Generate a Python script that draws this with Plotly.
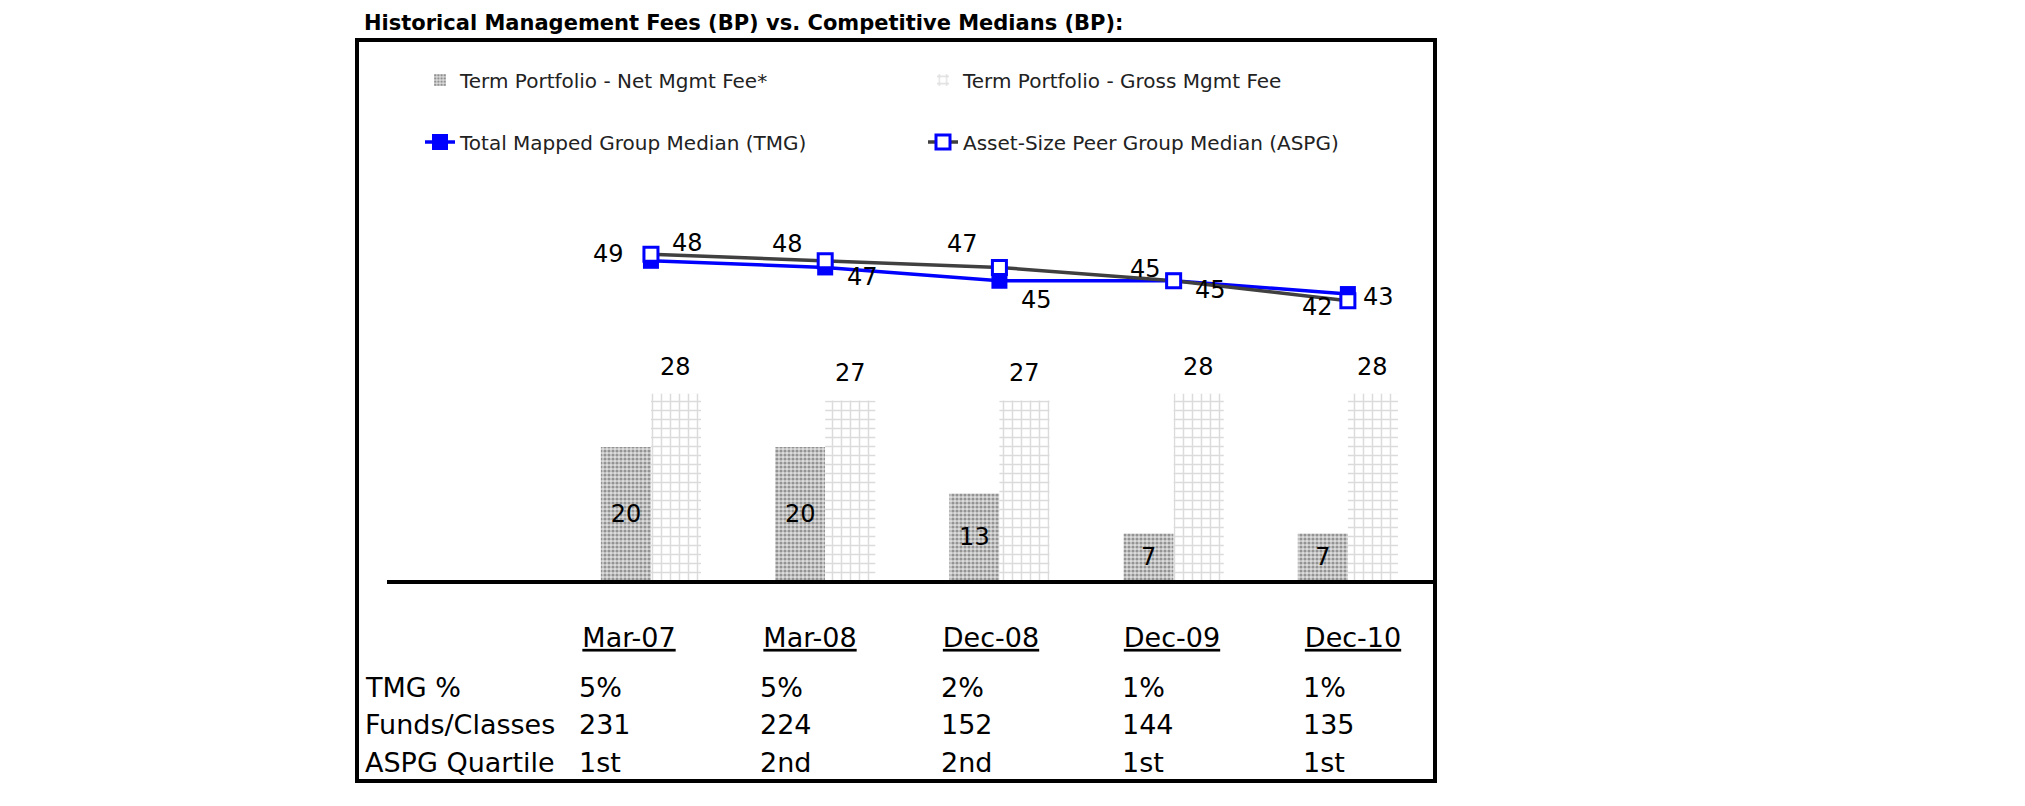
import plotly.graph_objects as go

# ---------------- data ----------------
periods = ["Mar-07", "Mar-08", "Dec-08", "Dec-09", "Dec-10"]
net_fee = [20, 20, 13, 7, 7]
gross_fee = [28, 27, 27, 28, 28]
tmg_median = [48, 47, 45, 45, 43]
aspg_median = [49, 48, 47, 45, 42]

row_labels = ["TMG %", "Funds/Classes", "ASPG Quartile"]
tmg_pct = ["5%", "5%", "2%", "1%", "1%"]
funds_classes = ["231", "224", "152", "144", "135"]
aspg_quartile = ["1st", "2nd", "2nd", "1st", "1st"]

title_text = "Historical Management Fees (BP) vs. Competitive Medians (BP):"

# ---------------- layout helpers ----------------
# page body has an 8px margin, so the figure is drawn 8px in from the corner
OFF = 8
W, H = 2025 - 2 * OFF, 806 - 2 * OFF
def px(x):
    return (x - OFF) / W
def py(y):
    return 1 - (y - OFF) / H

FONT = "DejaVu Sans"
LABEL_FONT = dict(family=FONT, size=24, color="black")

# label offsets (pixels) for the line value labels
aspg_dx = [-42, -38, -37, -28, -30]
aspg_dy = [0, 17, 23, 12, -6]
tmg_dx = [37, 37, 37, 37, 31]
tmg_dy = [18, -10, -19, -9, -3]

fig = go.Figure()

fig.add_trace(go.Bar(
    name="Term Portfolio - Net Mgmt Fee*", x=periods, y=net_fee,
    text=[str(v) for v in net_fee], textposition="inside", insidetextanchor="middle",
    textfont=LABEL_FONT, constraintext="none",
    marker=dict(color="#dcdcdc", line=dict(width=0),
                pattern=dict(shape=".", fgcolor="#4a4a4a", bgcolor="#dcdcdc", size=4, solidity=0.5)),
    legend="legend", cliponaxis=False,
))
fig.add_trace(go.Bar(
    name="Term Portfolio - Gross Mgmt Fee", x=periods, y=gross_fee,
    marker=dict(color="white", line=dict(width=0),
                pattern=dict(shape="+", fgcolor="#b8b8b8", bgcolor="white", size=9, solidity=0.3)),
    legend="legend", cliponaxis=False,
))
fig.add_trace(go.Scatter(
    name="Total Mapped Group Median (TMG)", x=periods, y=tmg_median,
    mode="lines+markers",
    line=dict(color="#0000ff", width=3.5),
    marker=dict(symbol="square", size=16, color="#0000ff", line=dict(width=0)),
    legend="legend2", cliponaxis=False,
))
fig.add_trace(go.Scatter(
    name="Asset-Size Peer Group Median (ASPG)", x=periods, y=aspg_median,
    mode="lines+markers",
    line=dict(color="#404040", width=3.5),
    marker=dict(symbol="square", size=14, color="white", line=dict(width=3, color="#0000ff")),
    legend="legend2", cliponaxis=False,
))

# invisible anchor trace so the table axes exist
fig.add_trace(go.Scatter(x=periods, y=[row_labels[0]] * len(periods), mode="markers",
                         marker=dict(opacity=0), xaxis="x2", yaxis="y2",
                         showlegend=False, hoverinfo="skip"))

annotations = []
# value labels on the lines
for p, v, dx, dy in zip(periods, aspg_median, aspg_dx, aspg_dy):
    annotations.append(dict(xref="x", yref="y", x=p, y=v, text=str(v), showarrow=False,
                            xanchor="center", yanchor="middle", xshift=dx, yshift=dy,
                            font=LABEL_FONT))
for p, v, dx, dy in zip(periods, tmg_median, tmg_dx, tmg_dy):
    annotations.append(dict(xref="x", yref="y", x=p, y=v, text=str(v), showarrow=False,
                            xanchor="center", yanchor="middle", xshift=dx, yshift=dy,
                            font=LABEL_FONT))
# gross fee labels above the gross bars
for p, v in zip(periods, gross_fee):
    annotations.append(dict(xref="x", yref="y", x=p, y=v, text=str(v), showarrow=False,
                            xanchor="center", yanchor="middle", xshift=25, yshift=27,
                            font=LABEL_FONT))

# table
TABLE_FONT = dict(family=FONT, size=27, color="black")
for r, vals in zip(row_labels, [tmg_pct, funds_classes, aspg_quartile]):
    annotations.append(dict(xref="x2 domain", x=0, yref="y2", y=r, text=r, showarrow=False,
                            xanchor="left", yanchor="middle", font=TABLE_FONT))
    for p, v in zip(periods, vals):
        annotations.append(dict(xref="x2", x=p, yref="y2", y=r, text=v, showarrow=False,
                                xanchor="left", yanchor="middle", xshift=-52,
                                font=TABLE_FONT))

fig.update_layout(
    width=W, height=H,
    margin=dict(l=0, r=0, t=0, b=0),
    paper_bgcolor="white", plot_bgcolor="white",
    barmode="group", bargap=0.425, bargroupgap=0,
    title=dict(text="<b>" + title_text + "</b>", x=px(364), xanchor="left",
               y=py(23), yanchor="middle", font=dict(family=FONT, size=21, color="black")),
    xaxis=dict(domain=[px(387), px(1435)], type="category", categoryorder="array",
               categoryarray=periods, range=[-1.515, 4.5], showline=True, linewidth=4,
               linecolor="black", showticklabels=False, ticks="", showgrid=False,
               zeroline=False, fixedrange=True),
    yaxis=dict(domain=[py(580), py(181)], range=[0, 60], visible=False, showgrid=False,
               zeroline=False),
    xaxis2=dict(domain=[px(363), px(1435)], anchor="y2", type="category",
                categoryorder="array", categoryarray=periods, range=[-1.4696, 4.453],
                side="top", showline=False, ticks="", showgrid=False, zeroline=False,
                tickmode="array", tickvals=periods,
                ticktext=["<u>" + p + "</u>" for p in periods],
                tickfont=TABLE_FONT, ticklabelstandoff=15),
    yaxis2=dict(domain=[py(780.75), py(668.25)], anchor="x2", type="category",
                categoryorder="array", categoryarray=row_labels, range=[2.5, -0.5],
                visible=False),
    legend=dict(orientation="h", x=px(420), xanchor="left", y=py(80), yanchor="middle",
                entrywidth=458, entrywidthmode="pixels", traceorder="normal",
                font=dict(family=FONT, size=20, color="#222222"), bgcolor="rgba(0,0,0,0)"),
    legend2=dict(orientation="h", x=px(420), xanchor="left", y=py(142), yanchor="middle",
                 entrywidth=458, entrywidthmode="pixels", traceorder="normal",
                 font=dict(family=FONT, size=20, color="#222222"), bgcolor="rgba(0,0,0,0)"),
    annotations=annotations,
    shapes=[dict(type="rect", xref="paper", yref="paper", x0=px(357), x1=px(1435),
                 y0=py(781), y1=py(40), line=dict(color="black", width=4))],
    showlegend=True,
)

fig.write_html("out.html")
